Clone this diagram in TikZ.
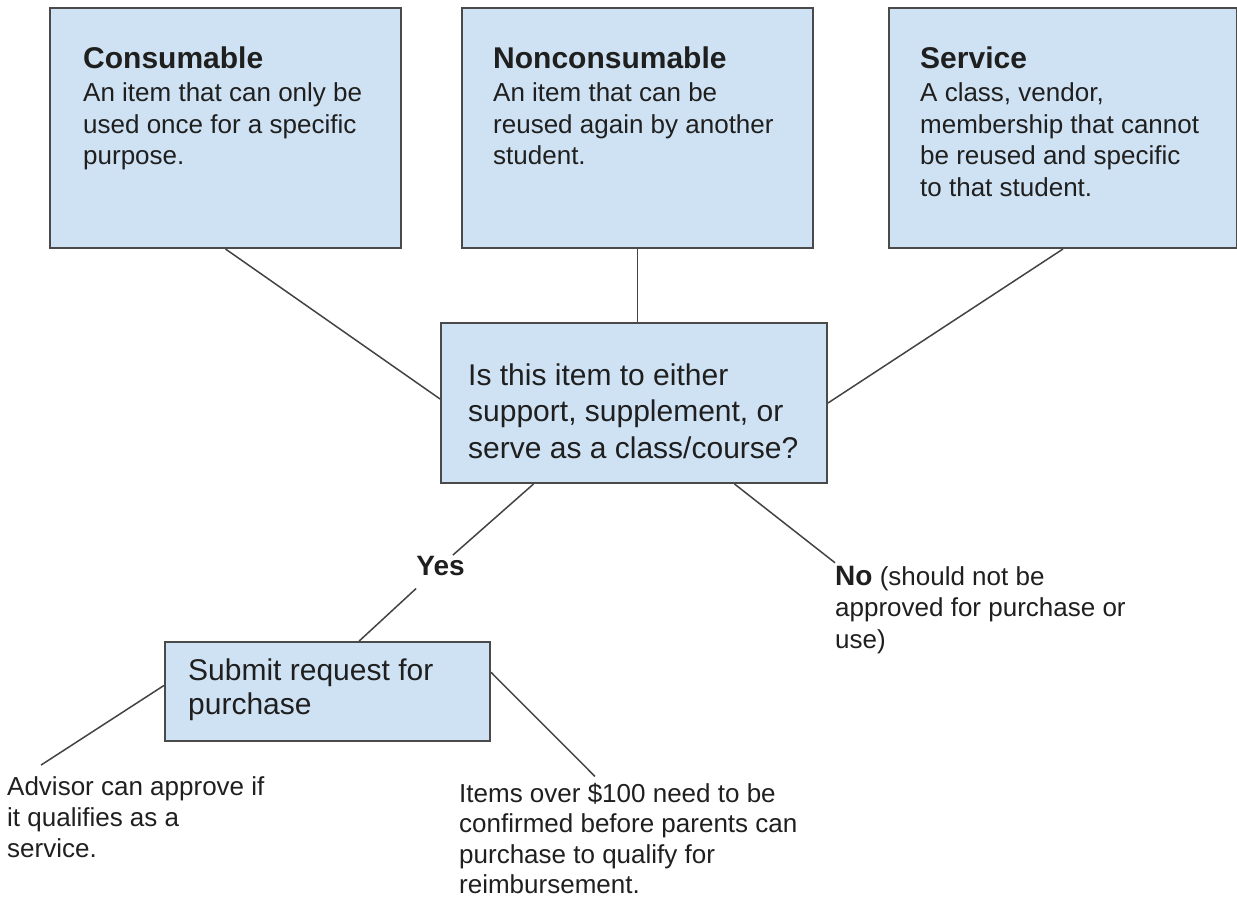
\documentclass[tikz,border=0pt]{standalone}
\usepackage{fontspec}
\setmainfont{Liberation Sans}
\usetikzlibrary{calc}

\definecolor{boxfill}{HTML}{CFE2F3}
\definecolor{boxline}{HTML}{4A4A4A}
\definecolor{wire}{HTML}{434343}
\definecolor{ink}{HTML}{1F1F1F}

\newcommand{\headfont}{\fontsize{30}{31.5}\selectfont\bfseries}
\newcommand{\lines}[1]{\begin{tabular}[t]{@{}l@{}}#1\end{tabular}}

\tikzset{
  card/.style={rectangle, draw=boxline, line width=2pt, fill=boxfill,
               inner sep=0pt, anchor=north west},
  txt/.style={anchor=base west, inner sep=0pt, text=ink,
              font=\fontsize{26}{31.5}\selectfont},
  bigtxt/.style={txt, font=\fontsize{30}{36.5}\selectfont},
  link/.style={draw=wire, line width=1.5pt},
  answer/.style={text=ink, font=\fontsize{28}{30}\selectfont\bfseries,
                 inner xsep=2pt, inner ysep=1pt},
}

\begin{document}
\begin{tikzpicture}[x=1pt, y=-1pt]
  \useasboundingbox (0,0) rectangle (1237,901);

  % category boxes
  \node[card, minimum width=351pt, minimum height=240pt] (cons)    at (49,7)  {};
  \node[card, minimum width=351pt, minimum height=240pt] (noncons) at (461,7) {};
  \node[card, minimum width=348pt, minimum height=240pt] (serv)    at (888,7) {};

  \node[txt] (consT) at (83,69) {\lines{\headfont Consumable\\[1.5pt]
      An item that can only be\\ used once for a specific\\ purpose.}};
  \node[txt] (nonconsT) at (493,69) {\lines{\headfont Nonconsumable\\[1.5pt]
      An item that can be\\ reused again by another\\ student.}};
  \node[txt] (servT) at (920,69) {\lines{\headfont Service\\[1.5pt]
      A class, vendor,\\ membership that cannot\\ be reused and specific\\ to that student.}};

  % question box
  \node[card, minimum width=386pt, minimum height=160pt] (q) at (440,322) {};
  \node[bigtxt] (qT) at (468,385) {\lines{Is this item to either\\
      support, supplement, or\\ serve as a class/course?}};

  % request box
  \node[card, minimum width=325pt, minimum height=99pt] (sub) at (164,641) {};
  \node[bigtxt, font=\fontsize{30}{34}\selectfont] (subT) at (188,680)
      {\lines{Submit request for\\ purchase}};

  % answers and notes
  \node[answer] (yes) at (440.5,566) {Yes};
  \node[txt] (noT) at (835,585) {\lines{{\fontsize{28}{31.5}\selectfont\bfseries No}
      (should not be\\ approved for purchase or\\ use)}};
  \node[txt, font=\fontsize{26}{31}\selectfont] (adv) at (7,795)
      {\lines{Advisor can approve if\\ it qualifies as a\\ service.}};
  \node[txt, font=\fontsize{26}{30.5}\selectfont] (items) at (459,802)
      {\lines{Items over \$100 need to be\\ confirmed before parents can\\
       purchase to qualify for\\ reimbursement.}};

  % connectors
  \draw[link] (cons.south) -- ($(q.north west)!0.475!(q.south west)$);
  \draw[link] (noncons.south) -- (noncons.south |- q.north);
  \draw[link] (serv.south) -- (q.east);

  \draw[link] ($(q.south west)!0.241!(q.south east)$) -- (yes);
  \draw[link, shorten <=17pt] (yes) -- ($(sub.north west)!0.597!(sub.north east)$);
  \draw[link] ($(q.south west)!0.759!(q.south east)$) -- (noT.north west);

  \draw[link] ($(sub.north west)!0.44!(sub.south west)$) -- ($(adv.north west)+(34,-8)$);
  \draw[link] ($(sub.north east)!0.31!(sub.south east)$) -- ($(items.north west)+(136,-4)$);
\end{tikzpicture}
\end{document}
